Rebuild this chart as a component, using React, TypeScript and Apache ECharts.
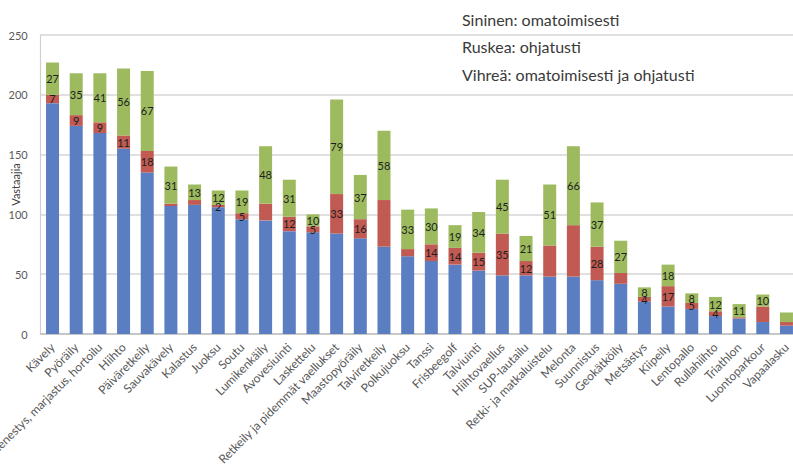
import React, { useEffect, useRef } from "react";
import * as echarts from "echarts";

const categories = [
  "Kävely", "Pyöräily", "Sienestys, marjastus, hortoilu", "Hiihto", "Päiväretkeily",
  "Sauvakävely", "Kalastus", "Juoksu", "Soutu", "Lumikenkäily", "Avovesiuinti",
  "Laskettelu", "Retkeily ja pidemmät vaellukset", "Maastopyöräily", "Talviretkeily",
  "Polkujuoksu", "Tanssi", "Frisbeegolf", "Talviuinti", "Hiihtovaellus", "SUP-lautailu",
  "Retki- ja matkaluistelu", "Melonta", "Suunnistus", "Geokätköily", "Metsästys",
  "Kiipeily", "Lentopallo", "Rullahiihto", "Triathlon", "Luontoparkour", "Vapaalasku",
];
const blueValues = [193, 174, 168, 155, 135, 107, 108, 106, 96, 95, 86, 85, 84, 80, 73, 65, 61, 58, 53, 49, 49, 48, 48, 45, 42, 27, 23, 21, 15, 13, 10, 7];
const redValues = [7, 9, 9, 11, 18, 2, 4, 2, 5, 14, 12, 5, 33, 16, 39, 6, 14, 14, 15, 35, 12, 26, 43, 28, 9, 4, 17, 5, 4, 1, 13, 3];
const greenValues = [27, 35, 41, 56, 67, 31, 13, 12, 19, 48, 31, 10, 79, 37, 58, 33, 30, 19, 34, 45, 21, 51, 66, 37, 27, 8, 18, 8, 12, 11, 10, 8];
const redLabelHidden = [5, 6, 9, 14, 15, 21, 22, 24, 29, 30, 31];
const greenLabelHidden = [31];
const yTicks = [0, 50, 100, 150, 200, 250];
const legendLines = [
  "Sininen: omatoimisesti",
  "Ruskea: ohjatusti",
  "Vihreä: omatoimisesti ja ohjatusti",
];

const FONT = "Lato, 'Open Sans', sans-serif";

export default function App() {
  const ref = useRef<HTMLDivElement>(null);
  useEffect(() => {
    document.body.style.margin = "0";
    if (!ref.current) return;
    const chart = echarts.init(ref.current, undefined, { renderer: "svg" });
    const labelStyle = {
      show: true,
      position: "inside",
      color: "#1e1e1e",
      fontSize: 11,
      fontFamily: FONT,
    };
    const mk = (vals: number[], hidden: number[]) =>
      vals.map((v, i) => (hidden.includes(i) ? { value: v, label: { show: false } } : { value: v }));
    chart.setOption({
      animation: false,
      backgroundColor: "#ffffff",
      grid: {
        left: 40.7,
        right: -5.3,
        top: 35,
        bottom: 131,
        containLabel: false,
        outerBoundsMode: "none",
      },
      xAxis: {
        type: "category",
        data: categories,
        axisLine: { show: true, lineStyle: { color: "#bfbfbf", width: 1.5 } },
        axisTick: { show: false },
        axisLabel: {
          interval: 0,
          rotate: 45,
          fontSize: 12,
          color: "#595959",
          fontFamily: FONT,
          margin: 11,
        },
      },
      yAxis: {
        type: "value",
        min: yTicks[0],
        max: yTicks[yTicks.length - 1],
        interval: 50,
        name: "Vastaajia",
        nameLocation: "middle",
        nameRotate: 90,
        nameGap: 20,
        nameMoveOverlap: false,
        nameTextStyle: { fontSize: 11, color: "#404040", fontFamily: FONT },
        axisLine: { show: true, lineStyle: { color: "#d0d0d0", width: 1.2 } },
        axisTick: { show: false },
        axisLabel: { fontSize: 11, color: "#595959", fontFamily: FONT, margin: 13 },
        splitLine: { lineStyle: { color: "#d6d6d6", width: 1.5 } },
      },
      series: [
        {
          name: "Sininen",
          type: "bar",
          stack: "total",
          barWidth: 13,
          data: blueValues,
          itemStyle: { color: "#5b7ec3" },
          label: { show: false },
        },
        {
          name: "Ruskea",
          type: "bar",
          stack: "total",
          barWidth: 13,
          data: mk(redValues, redLabelHidden),
          itemStyle: { color: "#c05a52" },
          label: labelStyle,
        },
        {
          name: "Vihreä",
          type: "bar",
          stack: "total",
          barWidth: 13,
          data: mk(greenValues, greenLabelHidden),
          itemStyle: { color: "#9dbb5e" },
          label: labelStyle,
        },
      ],
      graphic: legendLines.map((t, i) => ({
        type: "text",
        left: 462,
        top: 11 + i * 27.5,
        style: { text: t, fontSize: 16, fill: "#3a3a3a", fontFamily: FONT },
      })),
    });
    return () => chart.dispose();
  }, []);
  return <div ref={ref} style={{ width: 793, height: 465 }} />;
}
